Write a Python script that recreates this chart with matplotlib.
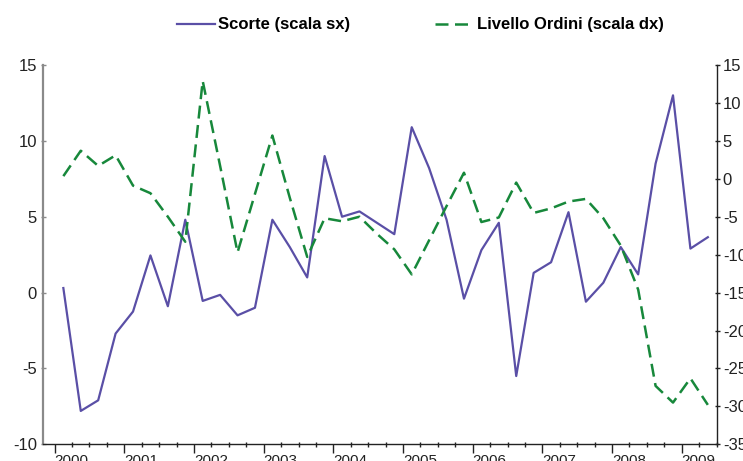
import numpy as np
import matplotlib
matplotlib.use("Agg")
import matplotlib.pyplot as plt

plt.rcParams["font.family"] = ["Liberation Sans", "DejaVu Sans"]
plt.rcParams["axes.unicode_minus"] = False

anni = ["2000", "2001", "2002", "2003", "2004", "2005", "2006", "2007", "2008", "2009"]

# dati trimestrali 2000T1 - 2009T2
scorte = [0.3, -7.8, -7.1, -2.7, -1.25, 2.45, -0.9, 4.8, -0.55, -0.15,
          -1.5, -1.0, 4.8, 3.0, 1.0, 9.0, 5.0, 5.35, 4.6, 3.85,
          10.9, 8.2, 4.8, -0.4, 2.8, 4.6, -5.5, 1.3, 2.0, 5.3,
          -0.6, 0.65, 3.0, 1.2, 8.5, 13.0, 2.9, 3.65]
ordini = [0.35, 3.7, 1.7, 3.1, -0.9, -1.9, -5.0, -8.3, 12.9, 1.7,
          -9.7, -2.0, 5.7, -2.5, -10.3, -5.2, -5.6, -5.0, -7.25, -9.3,
          -12.6, -8.1, -3.6, 0.8, -5.7, -5.1, -0.5, -4.5, -3.9, -3.0,
          -2.65, -5.2, -8.8, -14.6, -27.3, -29.5, -26.3, -29.8]

blu = "#5a4fa6"
verde = "#17883b"

x = np.arange(len(scorte))

fig = plt.figure(figsize=(7.43, 4.61), dpi=100)
ax = fig.add_axes([0.0583, 0.0362, 0.9061, 0.8228])
ax2 = ax.twinx()

ax.plot(x, scorte, color=blu, lw=1.6, label="Scorte (scala sx)")
ax2.plot(x, ordini, color=verde, lw=1.8, dashes=(5.2, 2.6), label="Livello Ordini (scala dx)")

ax.set_xlim(-1.15, 37.5)
ax.set_ylim(-10, 15)
ax2.set_ylim(-35, 15)
ax.set_yticks(np.arange(-10, 16, 5))
ax2.set_yticks(np.arange(-35, 16, 5))

# assi
ax.spines["top"].set_visible(False)
ax2.spines["top"].set_visible(False)
ax.spines["right"].set_visible(False)
ax2.spines["left"].set_visible(False)
ax.spines["left"].set_color("#8a8a8a")
ax.spines["left"].set_linewidth(1.6)
ax2.spines["right"].set_color("#222222")
ax2.spines["right"].set_linewidth(1.0)
ax.spines["bottom"].set_color("#222222")
ax.spines["bottom"].set_linewidth(1.0)
ax2.spines["bottom"].set_visible(False)

ax.tick_params(axis="y", direction="inout", length=3.6, width=1.0, color="#8a8a8a",
               labelsize=12, pad=2.7, labelcolor="#222222")
ax2.tick_params(axis="y", direction="inout", length=3.6, width=1.0, color="#222222",
                labelsize=12, pad=2.7, labelcolor="#222222")

major = np.arange(-0.5, 37, 4)
minor = [m for m in np.arange(-0.5, 38, 1) if m not in major]
ax.set_xticks(major)
ax.set_xticks(minor, minor=True)
ax.set_xticklabels(anni, ha="left")
ax.tick_params(axis="x", which="major", direction="out", length=6.5, width=1.0,
               color="#222222", labelsize=11, pad=0.8, labelcolor="#222222")
ax.tick_params(axis="x", which="minor", direction="inout", length=3.6, width=1.0,
               color="#222222")
for lab in ax.get_xticklabels():
    lab.set_horizontalalignment("left")

h1, l1 = ax.get_legend_handles_labels()
h2, l2 = ax2.get_legend_handles_labels()
fig.legend(h1 + h2, l1 + l2, loc="center", bbox_to_anchor=(0.5657, 0.946), ncol=2,
           frameon=False, prop={"weight": "bold", "size": 12},
           handlelength=2.3, handletextpad=0.18, columnspacing=5.1)

fig.savefig("out.png", dpi=100)
